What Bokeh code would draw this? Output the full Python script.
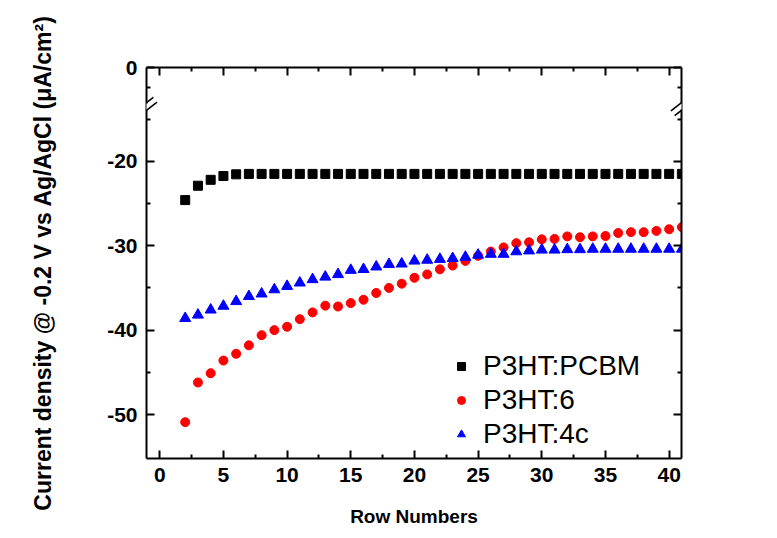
from bokeh.plotting import figure
from bokeh.models import (FixedTicker, LinearAxis, Range1d, Legend, LegendItem,
                          Label, Arrow, CustomJSTickFormatter)
from bokeh.embed import file_html
from bokeh.resources import INLINE

# ---------------- data ----------------
rows = [2, 3, 4, 5, 6, 7, 8, 9, 10, 11, 12, 13, 14, 15, 16, 17, 18, 19, 20, 21,
        22, 23, 24, 25, 26, 27, 28, 29, 30, 31, 32, 33, 34, 35, 36, 37, 38, 39, 40, 41]

p3ht_pcbm = [-24.6, -22.9, -22.2, -21.75, -21.55, -21.5, -21.5, -21.5, -21.5, -21.5,
             -21.5, -21.5, -21.5, -21.5, -21.5, -21.5, -21.5, -21.5, -21.5, -21.5,
             -21.5, -21.5, -21.5, -21.5, -21.5, -21.5, -21.5, -21.5, -21.5, -21.5,
             -21.5, -21.5, -21.5, -21.5, -21.5, -21.5, -21.5, -21.5, -21.5, -21.5]

p3ht_6 = [-50.9, -46.2, -45.1, -43.6, -42.8, -41.8, -40.6, -40.0, -39.6, -38.7,
          -37.9, -37.1, -37.2, -36.8, -36.4, -35.6, -35.0, -34.5, -33.8, -33.4,
          -32.8, -32.35, -31.8, -31.2, -30.7, -30.2, -29.7, -29.6, -29.25, -29.2,
          -28.9, -29.0, -28.9, -28.85, -28.5, -28.4, -28.4, -28.25, -28.05, -27.8]

p3ht_4c = [-38.6, -38.2, -37.6, -37.15, -36.6, -36.0, -35.7, -35.2, -34.8, -34.4,
           -34.0, -33.7, -33.4, -32.9, -32.8, -32.5, -32.2, -32.15, -31.8, -31.7,
           -31.6, -31.5, -31.35, -31.1, -31.0, -31.0, -30.7, -30.6, -30.5, -30.5,
           -30.45, -30.45, -30.4, -30.4, -30.4, -30.4, -30.4, -30.4, -30.4, -30.4]

series_names = ["P3HT:PCBM", "P3HT:6", "P3HT:4c"]

x_major = [0, 5, 10, 15, 20, 25, 30, 35, 40]
x_minor = [2.5, 7.5, 12.5, 17.5, 22.5, 27.5, 32.5, 37.5]
y_major = [-50, -40, -30, -20]
y_minor = [-45, -35, -25, -15]
Y_ZERO_POS = -8.9      # where the "0" of the broken axis sits
Y_ZERO_MINOR = -11.3   # minor tick of the upper (broken) segment

FONT = "Liberation Sans"

p = figure(width=777, height=538, output_backend="svg", toolbar_location=None,
           x_range=Range1d(-1.04, 40.97), y_range=Range1d(-55.2, Y_ZERO_POS),
           min_border_left=146, min_border_right=96, min_border_top=67,
           min_border_bottom=80)
p.outline_line_color = None
p.grid.visible = False
p.background_fill_color = "white"
p.border_fill_color = "white"

xt = FixedTicker(ticks=x_major, minor_ticks=x_minor)
yt = FixedTicker(ticks=y_major + [Y_ZERO_POS], minor_ticks=y_minor + [Y_ZERO_MINOR])

def style(ax):
    ax.axis_line_width = 2
    ax.axis_line_color = "black"
    ax.major_tick_in = 8
    ax.major_tick_out = 0
    ax.minor_tick_in = 4
    ax.minor_tick_out = 0
    ax.major_tick_line_width = 2
    ax.minor_tick_line_width = 2
    ax.major_label_text_font = FONT
    ax.major_label_text_font_style = "bold"
    ax.major_label_text_font_size = "21px"
    ax.major_label_text_color = "black"

xa = p.xaxis[0]
xa.ticker = xt
style(xa)
xa.major_label_standoff = 9
xa.axis_label = "Row Numbers"
xa.axis_label_text_font = FONT
xa.axis_label_text_font_style = "bold"
xa.axis_label_text_font_size = "19px"
xa.axis_label_text_color = "black"
xa.axis_label_standoff = 21

ya = p.yaxis[0]
ya.ticker = yt
style(ya)
ya.major_label_standoff = 9
ya.formatter = CustomJSTickFormatter(code="return tick > -15 ? '0' : tick.toFixed(0);")
ya.axis_label = "Current density @ -0.2 V vs Ag/AgCl (\u03bcA/cm\u00b2)"
ya.axis_label_text_font = FONT
ya.axis_label_text_font_style = "bold"
ya.axis_label_text_font_size = "23px"
ya.axis_label_text_color = "black"
ya.axis_label_standoff = 48

blank = CustomJSTickFormatter(code="return '';")
top = LinearAxis(ticker=xt, formatter=blank)
style(top)
p.add_layout(top, "above")
right = LinearAxis(ticker=yt, formatter=blank)
style(right)
p.add_layout(right, "right")

# ---------------- data marks ----------------
r1 = p.scatter(rows, p3ht_pcbm, marker="square", size=9, color="black")
r2 = p.scatter(rows, p3ht_6, marker="circle", size=9, color="#ff0000")
r3 = p.scatter(rows, p3ht_4c, marker="triangle", size=11, color="#0000ff")

legend = Legend(items=[LegendItem(label=series_names[0], renderers=[r1]),
                       LegendItem(label=series_names[1], renderers=[r2]),
                       LegendItem(label=series_names[2], renderers=[r3])],
                location=(305, 7))
legend.border_line_color = None
legend.background_fill_alpha = 0
legend.label_text_font = FONT
legend.label_text_font_size = "28px"
legend.label_text_color = "black"
legend.glyph_width = 20
legend.glyph_height = 20
legend.label_height = 34
legend.spacing = 0
legend.padding = 0
legend.margin = 0
legend.label_standoff = 12
p.add_layout(legend)

# ---------------- axis break marks ----------------
def axis_break(cx0, cy0):
    p.add_layout(Label(x=cx0, y=cy0, x_units="screen", y_units="screen", text="   ",
                       text_font_size="6px", text_align="center", text_baseline="middle",
                       background_fill_color="white"))
    for s in (-1, 1):
        cx = cx0 + s * 1.85
        cy = cy0 - s * 2.36
        p.add_layout(Arrow(x_start=cx - 8.7, y_start=cy - 6.8, x_end=cx + 8.7, y_end=cy + 6.8,
                           start_units="screen", end_units="screen", end=None,
                           line_width=1.6, line_color="black"))

axis_break(0, 352)
axis_break(535, 352)

open("out.html", "w").write(file_html(p, INLINE))
